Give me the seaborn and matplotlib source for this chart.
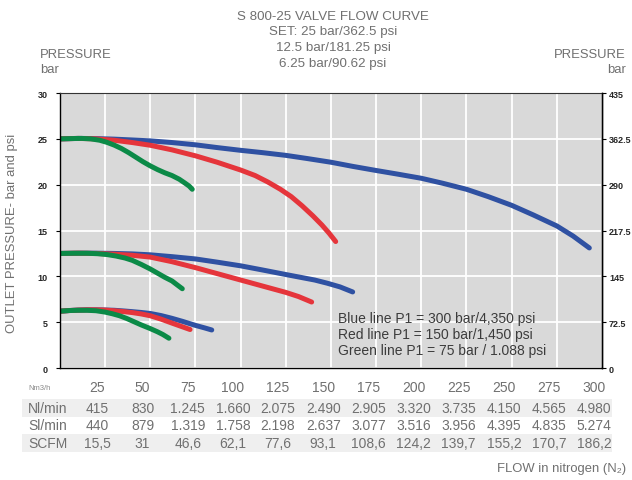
import matplotlib
matplotlib.use("Agg")
import matplotlib.pyplot as plt
import matplotlib.transforms as mtransforms
from matplotlib.patches import Rectangle
import seaborn as sns
import pandas as pd

# Outlet pressure (bar) against flow (Nm3/h), set pressure 25 bar
blue_25_flow = [0, 10, 20, 30, 40, 50, 62, 75, 87, 100, 112, 125, 137, 150, 162, 175, 187,
                200, 212, 225, 237, 250, 262, 275, 284, 293]
blue_25_bar = [25.0, 25.05, 25.03, 24.97, 24.88, 24.78, 24.6, 24.35, 24.05, 23.75, 23.5, 23.2,
               22.85, 22.45, 22.0, 21.55, 21.15, 20.7, 20.15, 19.5, 18.7, 17.75, 16.7, 15.5,
               14.4, 13.1]
red_25_flow = [0, 10, 20, 30, 40, 50, 62, 75, 87, 100, 108, 115, 122, 128, 134, 140, 145, 149,
               152.6]
red_25_bar = [25.0, 25.05, 25.0, 24.85, 24.6, 24.3, 23.8, 23.15, 22.45, 21.6, 21.0, 20.3, 19.5,
              18.7, 17.7, 16.6, 15.6, 14.7, 13.8]
green_25_flow = [0, 6, 12, 17, 22, 26, 30, 34, 38, 42, 46, 50, 54, 58, 62, 66, 69, 71.5, 73.2]
green_25_bar = [25.0, 25.03, 25.05, 25.0, 24.85, 24.62, 24.32, 23.95, 23.5, 23.0, 22.5, 22.05,
                21.65, 21.3, 21.0, 20.6, 20.2, 19.85, 19.5]

# Set pressure 12.5 bar
blue_12_flow = [0, 10, 20, 30, 40, 50, 62, 75, 87, 100, 112, 125, 133, 141, 148, 155, 162]
blue_12_bar = [12.5, 12.53, 12.53, 12.5, 12.45, 12.35, 12.15, 11.9, 11.55, 11.15, 10.7, 10.2,
               9.9, 9.6, 9.25, 8.85, 8.3]
red_12_flow = [0, 10, 20, 30, 40, 50, 62, 75, 87, 100, 112, 125, 132, 139.3]
red_12_bar = [12.5, 12.53, 12.5, 12.42, 12.3, 12.1, 11.6, 10.95, 10.3, 9.6, 8.95, 8.25, 7.8, 7.2]
green_12_flow = [0, 8, 15, 21, 26, 31, 36, 40, 45, 50, 54, 58, 62, 65, 67.7]
green_12_bar = [12.5, 12.52, 12.52, 12.47, 12.38, 12.22, 12.0, 11.75, 11.3, 10.8, 10.35, 9.9,
                9.5, 9.05, 8.65]

# Set pressure 6.25 bar
blue_6_flow = [0, 5, 10, 15, 20, 25, 30, 35, 40, 45, 50, 56, 62, 68, 75, 80, 84]
blue_6_bar = [6.2, 6.27, 6.32, 6.35, 6.35, 6.33, 6.3, 6.23, 6.15, 6.06, 5.95, 5.72, 5.42, 5.08,
              4.65, 4.38, 4.15]
red_6_flow = [0, 5, 10, 15, 20, 25, 30, 35, 40, 45, 50, 56, 62, 67, 72]
red_6_bar = [6.2, 6.27, 6.32, 6.35, 6.35, 6.32, 6.25, 6.16, 6.05, 5.9, 5.7, 5.33, 4.9, 4.55, 4.2]
green_6_flow = [0, 5, 10, 15, 20, 25, 29, 33, 37, 41, 45, 50, 54, 57, 60.3]
green_6_bar = [6.2, 6.27, 6.3, 6.3, 6.25, 6.1, 5.92, 5.7, 5.4, 5.05, 4.7, 4.3, 3.95, 3.65, 3.25]

# Flow conversion table
nm3h = ["25", "50", "75", "100", "125", "150", "175", "200", "225", "250", "275", "300"]
nl_min = ["415", "830", "1.245", "1.660", "2.075", "2.490", "2.905", "3.320", "3.735", "4.150", "4.565", "4.980"]
sl_min = ["440", "879", "1.319", "1.758", "2.198", "2.637", "3.077", "3.516", "3.956", "4.395", "4.835", "5.274"]
scfm = ["15,5", "31", "46,6", "62,1", "77,6", "93,1", "108,6", "124,2", "139,7", "155,2", "170,7", "186,2"]

bar_ticks = [0, 5, 10, 15, 20, 25, 30]
psi_ticks = [0, 72.5, 145, 217.5, 290, 362.5, 435]
psi_labels = ["0", "72.5", "145", "217.5", "290", "362.5", "435"]
flow_ticks = [0, 25, 50, 75, 100, 125, 150, 175, 200, 225, 250, 275, 300]

legend_lines = ["Blue line P1 = 300 bar/4,350 psi",
                "Red line P1 = 150 bar/1,450 psi",
                "Green line P1 = 75 bar / 1.088 psi"]

BLUE = "#2f51a2"
RED = "#e5353b"
GREEN = "#0b8a47"
GREY_TXT = "#707070"

sns.set_style("darkgrid", {"axes.facecolor": "#d9d9d9", "grid.color": "white",
                           "axes.edgecolor": "black"})
plt.rcParams["font.family"] = ["Liberation Sans", "DejaVu Sans"]

frames = []
for name, fl, pr in [
    ("b25", blue_25_flow, blue_25_bar), ("r25", red_25_flow, red_25_bar), ("g25", green_25_flow, green_25_bar),
    ("b12", blue_12_flow, blue_12_bar), ("r12", red_12_flow, red_12_bar), ("g12", green_12_flow, green_12_bar),
    ("b6", blue_6_flow, blue_6_bar), ("r6", red_6_flow, red_6_bar), ("g6", green_6_flow, green_6_bar),
]:
    frames.append(pd.DataFrame({"curve": name, "flow": fl, "bar": pr}))
df = pd.concat(frames, ignore_index=True)
palette = {"b25": BLUE, "r25": RED, "g25": GREEN, "b12": BLUE, "r12": RED, "g12": GREEN,
           "b6": BLUE, "r6": RED, "g6": GREEN}
# blue underneath, then red, green on top
order = ["b25", "b12", "b6", "r25", "r12", "r6", "g25", "g12", "g6"]

fig = plt.figure(figsize=(6.32, 4.81), dpi=100)
ax = fig.add_axes([0.0949, 0.2328, 0.8576, 0.5717])

for c in order:
    sub = df[df["curve"] == c]
    sns.lineplot(data=sub, x="flow", y="bar", color=palette[c], lw=3.6, ax=ax,
                 sort=False, estimator=None, solid_capstyle="round",
                 solid_joinstyle="round", legend=False)

ax.set_xlim(0, 300)
ax.set_ylim(0, 30)
ax.set_xticks(flow_ticks)
ax.set_xticklabels([])
ax.set_yticks(bar_ticks)
ax.set_yticklabels([str(t) for t in bar_ticks], fontsize=6.5, fontweight="bold")
ax.grid(True, color="white", lw=1.3)
ax.set_xlabel("")
ax.set_ylabel("")
ax.tick_params(axis="both", which="both", length=3, width=0.8, color="black")
ax.tick_params(axis="x", direction="out")
ax.tick_params(axis="y", pad=6)
for side in ["left", "bottom", "right"]:
    ax.spines[side].set_visible(True)
    ax.spines[side].set_color("black")
    ax.spines[side].set_linewidth(1.0)
ax.spines["top"].set_visible(True)
ax.spines["top"].set_color("#333333")
ax.spines["top"].set_linewidth(0.8)

ax2 = ax.twinx()
ax2.set_ylim(0, 435)
ax2.set_yticks(psi_ticks)
ax2.set_yticklabels(psi_labels, fontsize=6.5, fontweight="bold")
ax2.grid(False)
ax2.tick_params(axis="y", length=3, width=0.8, color="black", pad=2)
for side in ["left", "bottom", "top"]:
    ax2.spines[side].set_visible(False)
ax2.spines["right"].set_color("black")
ax2.spines["right"].set_linewidth(1.0)

# line key inside the plot
for i, t in enumerate(legend_lines):
    ax.text(154, 5.45 - i * 1.75, t, fontsize=10, color="#3c3c3c", va="center", ha="left")

# title block
title_lines = ["S 800-25 VALVE FLOW CURVE", "SET: 25 bar/362.5 psi",
               "12.5 bar/181.25 psi", "6.25 bar/90.62 psi"]
for i, t in enumerate(title_lines):
    fig.text(333 / 632, 1 - (17 + i * 15.5) / 481, t, fontsize=9.6, color=GREY_TXT,
             ha="center", va="center")

fig.text(40 / 632, 1 - 55 / 481, "PRESSURE", fontsize=9.4, color=GREY_TXT, ha="left", va="center")
fig.text(40 / 632, 1 - 70 / 481, "bar", fontsize=9.4, color=GREY_TXT, ha="left", va="center")
fig.text(626 / 632, 1 - 55 / 481, "PRESSURE", fontsize=9.4, color=GREY_TXT, ha="right", va="center")
fig.text(626 / 632, 1 - 70 / 481, "bar", fontsize=9.4, color=GREY_TXT, ha="right", va="center")
fig.text(12 / 632, 1 - 233 / 481, "OUTLET PRESSURE- bar and psi", fontsize=9.4, color=GREY_TXT,
         rotation=90, ha="center", va="center")
fig.text(626 / 632, 1 - 469 / 481, "FLOW in nitrogen (N\u2082)", fontsize=9.4, color=GREY_TXT,
         ha="right", va="center")

# conversion table under the axis
row_y = [388, 409, 426, 444]
for ry in (row_y[1], row_y[3]):
    fig.patches.append(Rectangle((22 / 632, 1 - (ry + 9) / 481), 590 / 632, 18 / 481,
                                 transform=fig.transFigure, facecolor="#efefef",
                                 edgecolor="none", zorder=-1))
blend = mtransforms.blended_transform_factory(ax.transData, fig.transFigure)
rows = [("Nm3/h", nm3h), ("Nl/min", nl_min), ("Sl/min", sl_min), ("SCFM", scfm)]
for (label, vals), ry in zip(rows, row_y):
    yy = 1 - ry / 481
    if label == "Nm3/h":
        fig.text(40 / 632, yy, label, fontsize=5.5, color="#8a8a8a", ha="center", va="center")
    else:
        fig.text(48 / 632, yy, label, fontsize=10, color=GREY_TXT, ha="center", va="center")
    for x, v in zip(flow_ticks[1:], vals):
        fig.text(x - 4.3, yy, v, transform=blend, fontsize=10, color=GREY_TXT, ha="center",
                 va="center")

fig.savefig("out.png", dpi=100)
